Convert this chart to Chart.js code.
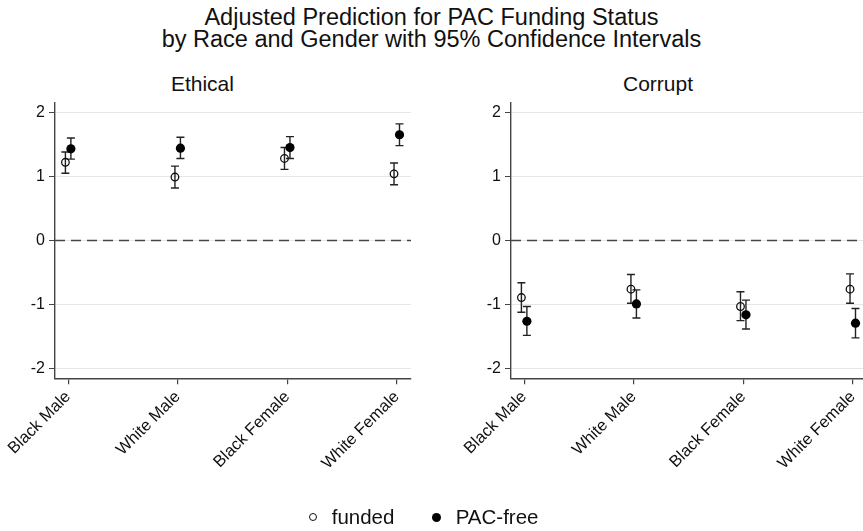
<!DOCTYPE html>
<html>
<head>
<meta charset="utf-8">
<script src="https://cdn.jsdelivr.net/npm/chart.js@4"></script>
<style>
  body { margin: 0; width: 863px; height: 531px; overflow: hidden; background: #fff; position: relative;
         font-family: "Liberation Sans", Arial, Helvetica, sans-serif; color: #111; }
  .abs { position: absolute; white-space: nowrap; }
  #title { left: 0; width: 863px; top: 6.4px; text-align: center; font-size: 23.5px; line-height: 22px; }
  .sub { width: 200px; text-align: center; font-size: 21px; line-height: 21px; top: 72.9px; }
  canvas { position: absolute; top: 87px; }
  .leg { font-size: 20.5px; line-height: 20px; top: 507.2px; }
  .mark { position: absolute; border-radius: 50%; box-sizing: border-box; }
</style>
</head>
<body>
<div id="title" class="abs">Adjusted Prediction for PAC Funding Status<br>by Race and Gender with 95% Confidence Intervals</div>
<div class="abs sub" style="left:102.4px">Ethical</div>
<div class="abs sub" style="left:558px">Corrupt</div>
<canvas id="ethical" width="420" height="444" style="left:0"></canvas>
<canvas id="corrupt" width="420" height="444" style="left:456px"></canvas>
<span class="mark" style="left:308.5px; top:512.8px; width:8.4px; height:8.4px; border:1.4px solid #111"></span>
<span class="abs leg" style="left:331.7px">funded</span>
<span class="mark" style="left:432.2px; top:512.5px; width:9px; height:9px; background:#000"></span>
<span class="abs leg" style="left:455.7px">PAC-free</span>
<script>
// Данные
const categories = ["Black Male", "White Male", "Black Female", "White Female"];
const yTicks = [-2, -1, 0, 1, 2];

const ethicalFunded   = [1.22, 0.99, 1.28, 1.04];
const ethicalFundedLo = [1.05, 0.82, 1.11, 0.87];
const ethicalFundedHi = [1.38, 1.16, 1.45, 1.21];
const ethicalFree     = [1.43, 1.44, 1.45, 1.65];
const ethicalFreeLo   = [1.27, 1.28, 1.28, 1.48];
const ethicalFreeHi   = [1.60, 1.61, 1.62, 1.82];

const corruptFunded   = [-0.89, -0.76, -1.03, -0.76];
const corruptFundedLo = [-1.12, -0.98, -1.25, -0.98];
const corruptFundedHi = [-0.66, -0.53, -0.80, -0.52];
const corruptFree     = [-1.26, -0.99, -1.16, -1.29];
const corruptFreeLo   = [-1.48, -1.21, -1.38, -1.52];
const corruptFreeHi   = [-1.03, -0.77, -0.93, -1.06];

Chart.defaults.font.family = '"Liberation Sans", Arial, Helvetica, sans-serif';

// Точки со сдвигом и интервалами
function points(values, lo, hi, shift) {
  return values.map((v, i) => ({ x: i + shift, y: v, lo: lo[i], hi: hi[i] }));
}

// Пунктир на нуле и доверительные интервалы
const errorBars = {
  id: "errorBars",
  beforeDatasetsDraw(chart) {
    const { ctx, chartArea, scales: { x, y } } = chart;
    ctx.save();
    const y0 = y.getPixelForValue(0);
    ctx.strokeStyle = "#444";
    ctx.lineWidth = 1.4;
    ctx.setLineDash([10, 6]);
    ctx.beginPath();
    ctx.moveTo(chartArea.left, y0);
    ctx.lineTo(chartArea.right, y0);
    ctx.stroke();
    ctx.setLineDash([]);

    ctx.strokeStyle = "#222";
    ctx.lineWidth = 1.4;
    for (const ds of chart.data.datasets) {
      for (const p of ds.data) {
        const px = x.getPixelForValue(p.x);
        const top = y.getPixelForValue(p.hi);
        const bot = y.getPixelForValue(p.lo);
        ctx.beginPath();
        ctx.moveTo(px, top); ctx.lineTo(px, bot);
        ctx.moveTo(px - 4, top); ctx.lineTo(px + 4, top);
        ctx.moveTo(px - 4, bot); ctx.lineTo(px + 4, bot);
        ctx.stroke();
      }
    }
    ctx.restore();
  }
};

function makeChart(id, funded, fundedLo, fundedHi, free, freeLo, freeHi) {
  new Chart(document.getElementById(id), {
    type: "scatter",
    data: {
      datasets: [
        {
          label: "funded",
          data: points(funded, fundedLo, fundedHi, -0.025),
          pointStyle: "circle",
          pointRadius: 3.8,
          pointBorderWidth: 1.3,
          borderColor: "#111",
          backgroundColor: "rgba(0,0,0,0)"
        },
        {
          label: "PAC-free",
          data: points(free, freeLo, freeHi, 0.025),
          pointStyle: "circle",
          pointRadius: 4.6,
          pointBorderWidth: 0,
          borderColor: "#000",
          backgroundColor: "#000"
        }
      ]
    },
    options: {
      responsive: false,
      animation: false,
      events: [],
      layout: { padding: { top: 15.7, right: 9, left: 0, bottom: 0 } },
      plugins: { legend: { display: false }, tooltip: { enabled: false } },
      scales: {
        x: {
          type: "linear",
          min: -0.12,
          max: 3.13,
          afterBuildTicks: s => { s.ticks = categories.map((c, i) => ({ value: i })); },
          afterFit: s => { s.height = 152.7; },
          ticks: {
            callback: v => categories[v],
            minRotation: 45,
            maxRotation: 45,
            autoSkip: false,
            font: { size: 16.5 },
            color: "#111",
            padding: 3
          },
          grid: { drawOnChartArea: false, tickLength: 6, color: "#444", tickColor: "#444", lineWidth: 1.2 },
          border: { color: "#444", width: 1.4 }
        },
        y: {
          min: -2.15,
          max: 2.15,
          afterBuildTicks: s => { s.ticks = yTicks.map(v => ({ value: v })); },
          afterFit: s => { s.width = 55; },
          ticks: { font: { size: 16 }, color: "#111", padding: 4 },
          grid: { color: "#e6e6e6", lineWidth: 1, tickLength: 6, tickColor: "#444" },
          border: { color: "#444", width: 1.4 }
        }
      }
    },
    plugins: [errorBars]
  });
}

makeChart("ethical", ethicalFunded, ethicalFundedLo, ethicalFundedHi, ethicalFree, ethicalFreeLo, ethicalFreeHi);
makeChart("corrupt", corruptFunded, corruptFundedLo, corruptFundedHi, corruptFree, corruptFreeLo, corruptFreeHi);
</script>
</body>
</html>
